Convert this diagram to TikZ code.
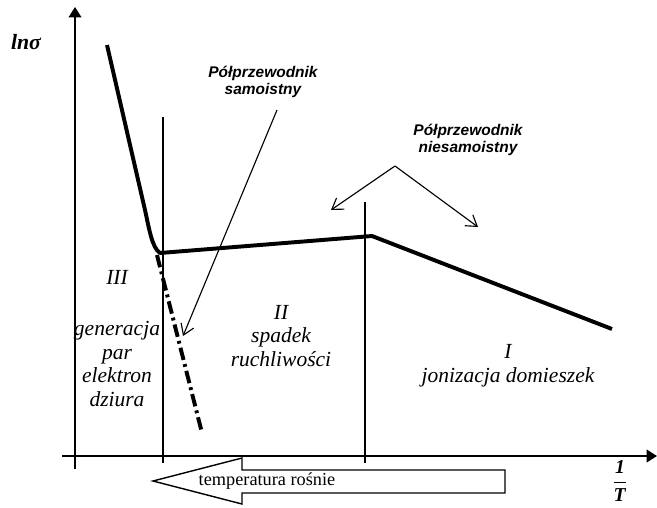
\documentclass[tikz,border=0pt]{standalone}
\usepackage{fontspec}
\setmainfont{Liberation Serif}
\newfontfamily\notefont{Liberation Sans}
\usetikzlibrary{arrows.meta, calc, positioning}

\begin{document}
\begin{tikzpicture}[x=0.025cm, y=-0.025cm, >=Stealth,
    axis/.style={line width=1pt, -{Triangle[length=2.6mm,width=3.2mm]}},
    boundary/.style={line width=1pt},
    curve/.style={line width=2.8pt, line join=round},
    dashdot/.style={line width=2.8pt, dash pattern=on 9pt off 3pt on 2pt off 3pt},
    pointer/.style={line width=0.8pt, -{Straight Barb[length=2.6mm,width=3.4mm]}},
    region/.style={font=\fontsize{15.3}{17}\selectfont\itshape, align=center, inner sep=0pt},
    note/.style={font=\notefont\fontsize{11}{12.6}\selectfont\bfseries\itshape, align=center, inner sep=0pt}]

    \useasboundingbox (0,0) rectangle (657,507);

    % axes
    \coordinate (ytail) at (75,469);
    \coordinate (ytip) at (75,7);
    \coordinate (xtail) at (62,456);
    \coordinate (xtip) at (657,456);
    \draw[axis] (ytail) -- (ytip);
    \draw[axis] (xtail) -- (xtip);
    \node[font=\fontsize{15.5}{17}\selectfont\bfseries\itshape, inner sep=0pt] (ylab) at (26,42) {lnσ};
    \node[inner sep=0pt, font=\fontsize{14}{16}\selectfont] (xlab) at (620,481)
        {$\displaystyle\frac{\textbf{\textit{1}}}{\textbf{\textit{T}}}$};

    % region boundaries
    \coordinate (b3top) at (163,117);
    \coordinate (b3bot) at (163,463);
    \coordinate (b2top) at (365,202);
    \coordinate (b2bot) at (365,463);
    \draw[boundary] (b3top) -- (b3bot);
    \draw[boundary] (b2top) -- (b2bot);

    % ln sigma (1/T)
    \coordinate (start) at (107,45);
    \coordinate (bend) at (145,210);
    \coordinate (knee) at (160,253);
    \coordinate (peak) at (372,236);
    \coordinate (stop) at (612,329);
    \draw[curve] (start) -- (bend) .. controls (149,228) and (152,248) .. (knee)
        -- (peak) -- (stop);
    \coordinate (dd0) at (157,255);
    \coordinate (dd1) at (202,433);
    \draw[dashdot] (dd0) -- (dd1);

    % labels
    \node[note] (samo) at (263,82) {Półprzewodnik\\samoistny};
    \node[note] (niesamo) at (468,140) {Półprzewodnik\\niesamoistny};
    \coordinate (samofrom) at (277,110);
    \coordinate (samoto) at (183,336);
    \draw[pointer] (samofrom) -- (samoto);
    \coordinate (apex) at (395,166);
    \coordinate (nleft) at (331,210);
    \coordinate (nright) at (478,227);
    \draw[pointer] (apex) -- (nleft);
    \draw[pointer] (apex) -- (nright);

    \node[region] (r3) at (117,277) {III};
    \node[region] (r3txt) at (117,364) {generacja\\par\\elektron\\dziura};
    \node[region] (r2) at (281,336) {II\\spadek\\ruchliwości};
    \node[region] (r1) at (508,366) {I\\jonizacja domieszek};

    % temperature arrow
    \draw[line width=1pt, line join=miter] (153,481) -- (242,458) -- (242,470) -- (505,470)
        -- (505,493) -- (242,493) -- (242,504) -- cycle;
    \node[font=\fontsize{13}{15}\selectfont, inner sep=0pt] (temp) at (267,481) {temperatura rośnie};
\end{tikzpicture}
\end{document}
